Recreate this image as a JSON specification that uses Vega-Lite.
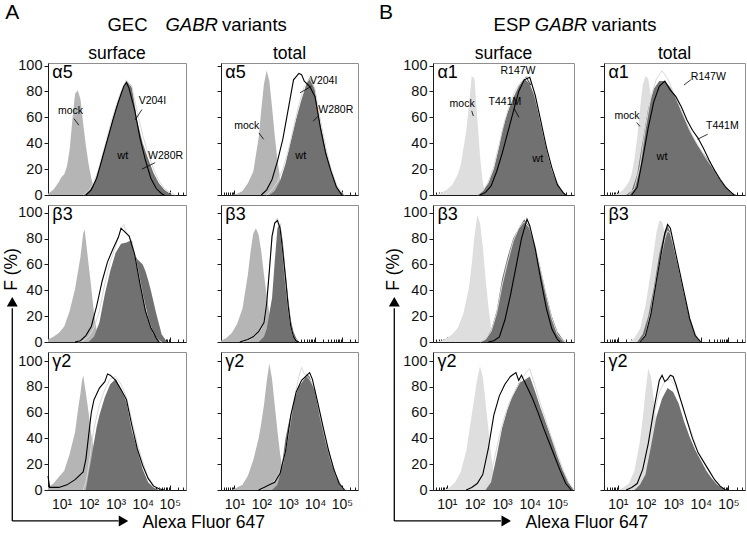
{
"$schema":"https://vega.github.io/schema/vega-lite/v6.json",
"background":"white",
"padding":{"left":2,"top":1,"right":1,"bottom":1},
"config":{"font":"Liberation Sans","view":{"stroke":"#8f8f8f","strokeWidth":1},
"axis":{"grid":false,"domainColor":"#1a1a1a","tickColor":"#1a1a1a","labelColor":"#111111","labelFont":"Liberation Sans","domainWidth":1,"tickWidth":1},
"axisX":{"labelFontSize":14},"axisY":{"labelFontSize":14.5}},
"datasets":{
"curves":[
{"p":"A1s","s":"mock","L":[0.5,0.7,0.9,1.0,1.1,1.2,1.3,1.4,1.5,1.6,1.7,1.8,1.9,2.0,2.1,2.2,2.3],"y":[1,4,10,14,16,22,35,58,78,81,74,55,38,24,13,5,0]},
{"p":"A1s","s":"wt","L":[1.8,2.0,2.2,2.4,2.6,2.8,3.0,3.2,3.4,3.6,3.8,4.0,4.2,4.4,4.6,4.8,5.0,5.1],"y":[0,3,9,21,37,52,68,80,88,83,57,40,28,17,9,4,1,0]},
{"p":"A1s","s":"v1","L":[1.9,2.1,2.3,2.5,2.7,2.9,3.1,3.3,3.4,3.5,3.7,3.9,4.1,4.3,4.5,4.7,4.8],"y":[0,4,13,28,43,58,72,84,87,82,66,44,27,13,5,1,0]},
{"p":"A1s","s":"v2","L":[1.8,2.0,2.2,2.4,2.6,2.8,3.0,3.2,3.4,3.6,3.8,4.0,4.2,4.4,4.6,4.8,5.0,5.2],"y":[0,3,10,22,38,54,68,80,89,84,64,46,32,20,11,5,2,0]},
{"p":"A1t","s":"mock","L":[0.9,1.1,1.3,1.5,1.7,1.9,2.0,2.1,2.2,2.3,2.4,2.5,2.6,2.7,2.8,2.9],"y":[0,1,3,9,18,44,66,86,96,88,68,46,27,13,4,0]},
{"p":"A1t","s":"wt","L":[2.3,2.5,2.7,2.9,3.1,3.3,3.5,3.7,3.8,3.9,4.0,4.2,4.4,4.6,4.8,5.0,5.1],"y":[0,3,11,24,42,59,74,87,91,88,81,55,35,19,7,1,0]},
{"p":"A1t","s":"v1","L":[2.0,2.2,2.4,2.6,2.8,3.0,3.2,3.4,3.5,3.6,3.8,4.0,4.2,4.4,4.6,4.8,5.0],"y":[0,4,12,26,43,66,89,94,93,88,84,76,52,32,18,6,0]},
{"p":"A1t","s":"v2","L":[2.2,2.4,2.6,2.8,3.0,3.2,3.4,3.6,3.8,4.0,4.2,4.4,4.6,4.8,5.0,5.1],"y":[0,4,10,20,34,52,70,84,90,82,58,37,20,8,2,0]},
{"p":"A2s","s":"mock","L":[0.5,0.7,0.9,1.1,1.3,1.5,1.7,1.8,1.85,1.9,2.0,2.1,2.2,2.3,2.4,2.5],"y":[2,4,7,12,24,41,66,84,87,79,60,42,22,9,2,0]},
{"p":"A2s","s":"wt","L":[2.0,2.2,2.4,2.6,2.8,3.0,3.2,3.4,3.6,3.7,3.8,4.0,4.1,4.2,4.3,4.5,4.7,4.9],"y":[0,4,15,37,55,69,76,77,79,68,64,60,55,48,40,22,6,0]},
{"p":"A2s","s":"v1","L":[1.5,1.7,1.9,2.1,2.3,2.5,2.7,2.9,3.1,3.2,3.3,3.5,3.7,3.9,4.1,4.3,4.5,4.6],"y":[0,1,5,12,28,47,62,72,81,88,86,82,68,45,24,11,3,0]},
{"p":"A2s","s":"v2","L":[1.6,1.8,2.0,2.2,2.4,2.6,2.8,3.0,3.2,3.3,3.4,3.6,3.8,4.0,4.2,4.4,4.6,4.7],"y":[0,1,4,11,24,45,62,74,88,91,84,78,58,36,18,6,1,0]},
{"p":"A2t","s":"mock","L":[0.5,0.7,0.9,1.1,1.3,1.5,1.6,1.7,1.8,1.9,2.0,2.1,2.2,2.3,2.4,2.5,2.6],"y":[1,3,7,14,26,52,70,84,88,83,70,52,36,22,9,2,0]},
{"p":"A2t","s":"wt","L":[1.9,2.1,2.2,2.3,2.4,2.5,2.6,2.7,2.8,2.9,3.0,3.1,3.2,3.3,3.4],"y":[0,4,10,22,34,62,88,92,78,55,34,17,8,3,0]},
{"p":"A2t","s":"v1","L":[1.2,1.5,1.7,1.9,2.1,2.2,2.3,2.4,2.5,2.6,2.7,2.8,2.9,3.0,3.1,3.2,3.3,3.4],"y":[0,2,4,8,15,30,55,82,92,94,88,70,50,28,12,4,1,0]},
{"p":"A2t","s":"v2","L":[1.3,1.6,1.8,2.0,2.1,2.2,2.3,2.4,2.5,2.6,2.7,2.8,2.9,3.0,3.1,3.2,3.4],"y":[0,2,5,10,16,32,56,80,92,96,88,68,46,26,12,4,0]},
{"p":"A3s","s":"mock","L":[0.5,0.7,0.9,1.1,1.3,1.5,1.6,1.7,1.75,1.8,1.9,2.0,2.1,2.2,2.3,2.4,2.5,2.6],"y":[2,5,10,15,28,45,61,75,84,89,75,60,43,31,21,11,4,0]},
{"p":"A3s","s":"wt","L":[1.9,2.0,2.1,2.2,2.3,2.4,2.6,2.8,3.0,3.2,3.4,3.6,3.8,4.0,4.2,4.4,4.6],"y":[0,13,24,37,49,58,72,82,86,78,68,46,31,16,6,2,0]},
{"p":"A3s","s":"v1","L":[0.5,0.56,0.9,1.2,1.5,1.8,1.9,2.0,2.1,2.2,2.4,2.6,2.7,2.8,3.0,3.2,3.4,3.6,3.8,4.0,4.2,4.4,4.6,4.8],"y":[11,2,2,4,8,14,24,42,60,70,79,84,90,89,85,78,70,50,32,19,9,3,1,0]},
{"p":"A3s","s":"v2","L":[1.8,1.9,2.0,2.1,2.2,2.4,2.6,2.8,3.0,3.2,3.4,3.6,3.8,4.0,4.2,4.4,4.6,4.8],"y":[0,6,18,34,48,66,78,86,88,82,72,54,36,22,10,4,1,0]},
{"p":"A3t","s":"mock","L":[0.9,1.1,1.3,1.5,1.7,1.9,2.0,2.1,2.2,2.3,2.4,2.5,2.6,2.7,2.8,2.9,3.0],"y":[0,2,4,11,23,40,52,66,84,98,86,66,46,28,15,6,0]},
{"p":"A3t","s":"wt","L":[2.4,2.6,2.7,2.8,2.9,3.0,3.2,3.4,3.6,3.7,3.8,4.0,4.2,4.4,4.6,4.8,5.0,5.1],"y":[0,4,12,24,40,50,68,80,86,90,88,76,58,40,24,11,3,0]},
{"p":"A3t","s":"v1","L":[1.9,2.1,2.3,2.5,2.7,2.9,3.0,3.1,3.3,3.5,3.7,3.8,3.9,4.1,4.3,4.5,4.7,4.9,5.1],"y":[0,2,4,6,13,30,44,58,76,85,89,91,86,68,49,31,16,5,0]},
{"p":"A3t","s":"v2","L":[2.0,2.2,2.4,2.6,2.8,3.0,3.2,3.4,3.5,3.6,3.8,4.0,4.2,4.4,4.6,4.8,5.0,5.2],"y":[0,3,5,10,20,42,68,88,95,90,86,78,56,38,22,10,2,0]},
{"p":"B1s","s":"mock","L":[0.6,0.8,1.0,1.2,1.4,1.5,1.6,1.7,1.8,1.9,2.0,2.1,2.2,2.3,2.4],"y":[0,2,4,8,16,23,36,49,69,92,90,60,30,10,0]},
{"p":"B1s","s":"wt","L":[2.1,2.3,2.5,2.7,2.9,3.0,3.2,3.4,3.6,3.8,4.0,4.2,4.4,4.6,4.8,5.0,5.2,5.3],"y":[0,3,9,20,38,50,64,75,84,90,86,75,55,36,19,8,2,0]},
{"p":"B1s","s":"v1","L":[2.2,2.4,2.6,2.8,3.0,3.2,3.4,3.6,3.8,4.0,4.2,4.4,4.6,4.8,5.0,5.2,5.3],"y":[0,2,7,18,32,48,64,80,89,91,77,57,37,21,8,2,0]},
{"p":"B1s","s":"v2","L":[2.1,2.3,2.5,2.7,2.9,3.1,3.3,3.5,3.7,3.9,4.1,4.3,4.5,4.7,4.9,5.1,5.3],"y":[0,3,10,22,40,58,72,82,88,92,84,66,46,28,14,5,0]},
{"p":"B1t","s":"mock","L":[0.8,1.0,1.2,1.4,1.5,1.6,1.7,1.8,1.9,2.0,2.1,2.2,2.3,2.4,2.5,2.6,2.7],"y":[0,1,4,10,16,28,44,66,85,92,90,76,56,35,18,7,0]},
{"p":"B1t","s":"wt","L":[1.3,1.5,1.7,1.9,2.1,2.3,2.5,2.7,2.9,3.1,3.3,3.5,3.7,3.9,4.1,4.3,4.5,4.7,4.9,5.1,5.3],"y":[0,3,16,42,67,82,88,88,83,76,65,55,46,38,32,26,20,13,7,2,0]},
{"p":"B1t","s":"v1","L":[1.5,1.7,1.9,2.1,2.3,2.5,2.7,2.9,3.1,3.3,3.5,3.7,3.9,4.1,4.3,4.5,4.7,4.9,5.1,5.2],"y":[0,6,28,52,72,84,88,81,76,68,58,50,44,36,27,19,12,6,2,0]},
{"p":"B1t","s":"v2","L":[1.4,1.6,1.8,2.0,2.2,2.4,2.6,2.8,3.0,3.2,3.4,3.6,3.8,4.0,4.2,4.4,4.6,4.8,5.0,5.2],"y":[0,5,22,52,76,90,96,90,80,70,60,50,42,35,28,22,15,9,4,0]},
{"p":"B2s","s":"mock","L":[0.6,0.8,1.0,1.2,1.4,1.6,1.8,1.9,2.0,2.1,2.2,2.3,2.4,2.5,2.6,2.7,2.8],"y":[0,1,3,6,11,22,42,60,82,98,92,74,50,28,11,3,0]},
{"p":"B2s","s":"wt","L":[2.2,2.4,2.6,2.8,3.0,3.2,3.4,3.6,3.8,4.0,4.2,4.4,4.6,4.8,5.0,5.2,5.3],"y":[0,2,9,24,49,66,80,88,95,89,74,56,37,20,8,2,0]},
{"p":"B2s","s":"v1","L":[2.5,2.7,2.9,3.1,3.3,3.5,3.7,3.9,4.0,4.2,4.4,4.6,4.8,5.0,5.1],"y":[0,1,4,17,36,58,80,95,90,72,48,26,10,2,0]},
{"p":"B2s","s":"v2","L":[2.2,2.4,2.6,2.8,3.0,3.2,3.4,3.6,3.8,4.0,4.2,4.4,4.6,4.8,5.0,5.2,5.3],"y":[0,2,8,22,44,62,78,88,93,88,74,55,36,18,6,1,0]},
{"p":"B2t","s":"mock","L":[1.4,1.6,1.8,2.0,2.2,2.4,2.5,2.6,2.7,2.8,2.9,3.0,3.2,3.4,3.6,3.7],"y":[0,3,10,28,55,85,94,93,84,70,50,34,16,6,1,0]},
{"p":"B2t","s":"wt","L":[1.7,1.9,2.1,2.3,2.5,2.7,2.8,2.9,3.0,3.2,3.4,3.6,3.8,4.0],"y":[0,6,20,42,68,86,90,85,76,56,37,18,6,0]},
{"p":"B2t","s":"v1","L":[1.8,2.0,2.2,2.4,2.6,2.7,2.8,2.9,3.0,3.2,3.4,3.6,3.8,4.0],"y":[0,5,22,48,72,84,91,88,78,58,38,18,5,0]},
{"p":"B2t","s":"v2","L":[1.8,2.0,2.2,2.4,2.6,2.7,2.8,2.9,3.0,3.2,3.4,3.6,3.8,4.0],"y":[0,6,24,50,70,80,86,84,76,58,38,19,6,0]},
{"p":"B3s","s":"mock","L":[0.9,1.1,1.3,1.5,1.7,1.8,1.9,2.0,2.1,2.2,2.3,2.4,2.5,2.6,2.7,2.8,2.9],"y":[0,2,6,14,30,44,58,72,86,96,88,68,48,28,12,3,0]},
{"p":"B3s","s":"wt","L":[2.4,2.6,2.8,3.0,3.2,3.4,3.6,3.8,4.0,4.2,4.4,4.6,4.8,5.0,5.2,5.4,5.6],"y":[0,6,26,48,63,74,83,85,88,76,63,51,39,26,15,6,0]},
{"p":"B3s","s":"v1","L":[1.7,1.9,2.1,2.3,2.5,2.7,2.9,3.1,3.3,3.5,3.6,3.7,3.9,4.1,4.3,4.5,4.7,4.9,5.1,5.3,5.5],"y":[0,2,5,12,32,58,73,82,88,91,85,89,80,71,60,48,37,26,15,5,0]},
{"p":"B3s","s":"v2","L":[2.3,2.5,2.7,2.9,3.1,3.3,3.5,3.7,3.9,4.0,4.2,4.4,4.6,4.8,5.0,5.2,5.4,5.6],"y":[0,6,22,42,58,70,78,86,92,94,80,66,53,40,28,16,6,0]},
{"p":"B3t","s":"mock","L":[1.0,1.2,1.4,1.6,1.8,1.9,2.0,2.1,2.2,2.3,2.4,2.5,2.6,2.7,2.8,2.9],"y":[0,2,5,15,38,55,76,94,88,70,50,32,18,8,2,0]},
{"p":"B3t","s":"wt","L":[1.6,1.8,2.0,2.2,2.4,2.6,2.8,3.0,3.2,3.4,3.6,3.8,4.0,4.2,4.4,4.6,4.8,4.9],"y":[0,4,12,34,57,71,79,76,67,53,41,31,23,15,9,4,1,0]},
{"p":"B3t","s":"v1","L":[1.3,1.5,1.7,1.9,2.1,2.3,2.5,2.6,2.7,2.8,2.9,3.0,3.1,3.3,3.5,3.7,3.9,4.1,4.3,4.5,4.7,4.9],"y":[0,2,5,16,36,62,85,89,84,86,89,88,82,68,54,40,29,22,15,8,3,0]},
{"p":"B3t","s":"v2","L":[1.5,1.7,1.9,2.1,2.3,2.5,2.7,2.9,3.1,3.3,3.5,3.7,3.9,4.1,4.3,4.5,4.7,4.9],"y":[0,4,14,34,58,76,84,86,80,68,54,42,30,22,14,8,3,0]}
],
"texts":[
{"p":"A1s","k":"g","t":"α5","L":0.66,"y":101},{"p":"A1t","k":"g","t":"α5","L":0.66,"y":101},
{"p":"A2s","k":"g","t":"β3","L":0.66,"y":105},{"p":"A2t","k":"g","t":"β3","L":0.66,"y":105},
{"p":"A3s","k":"g","t":"γ2","L":0.66,"y":106},{"p":"A3t","k":"g","t":"γ2","L":0.66,"y":106},
{"p":"B1s","k":"g","t":"α1","L":0.66,"y":101},{"p":"B1t","k":"g","t":"α1","L":0.66,"y":101},
{"p":"B2s","k":"g","t":"β3","L":0.66,"y":105},{"p":"B2t","k":"g","t":"β3","L":0.66,"y":105},
{"p":"B3s","k":"g","t":"γ2","L":0.66,"y":106},{"p":"B3t","k":"g","t":"γ2","L":0.66,"y":106},
{"p":"A1s","k":"h","t":"surface","L":3.05,"y":105},{"p":"A1t","k":"h","t":"total","L":3.05,"y":105},
{"p":"B1s","k":"h","t":"surface","L":3.05,"y":105},{"p":"B1t","k":"h","t":"total","L":3.05,"y":105},
{"p":"A1s","k":"a","t":"mock","L":0.87,"y":65},{"p":"A1s","k":"a","t":"V204I","L":3.85,"y":73},{"p":"A1s","k":"a","t":"W280R","L":4.2,"y":30},{"p":"A1s","k":"c","t":"wt","L":3.26,"y":30},
{"p":"A1t","k":"a","t":"mock","L":0.99,"y":53},{"p":"A1t","k":"a","t":"V204I","L":3.81,"y":88},{"p":"A1t","k":"a","t":"W280R","L":4.12,"y":66},{"p":"A1t","k":"c","t":"wt","L":3.47,"y":30},
{"p":"B1s","k":"a","t":"mock","L":1.1,"y":70},{"p":"B1s","k":"a","t":"R147W","L":2.94,"y":96},{"p":"B1s","k":"a","t":"T441M","L":2.51,"y":72},{"p":"B1s","k":"c","t":"wt","L":4.29,"y":28},
{"p":"B1t","k":"a","t":"mock","L":0.88,"y":61},{"p":"B1t","k":"a","t":"R147W","L":3.64,"y":91},{"p":"B1t","k":"a","t":"T441M","L":4.19,"y":53},{"p":"B1t","k":"c","t":"wt","L":2.6,"y":29},
{"p":"A1s","k":"tr","t":"GEC","L":4.18,"y":126.7},{"p":"A1s","k":"ti","t":"GABR","L":4.84,"y":126.7},{"p":"A1s","k":"tl","t":"variants","L":6.93,"y":126.7},{"p":"A1s","k":"P","t":"A","L":-1.08,"y":136},
{"p":"B1s","k":"tr","t":"ESP","L":4.03,"y":126.7},{"p":"B1s","k":"ti","t":"GABR","L":4.18,"y":126.7},{"p":"B1s","k":"tl","t":"variants","L":6.24,"y":126.7},{"p":"B1s","k":"P","t":"B","L":-1.45,"y":136},
{"p":"A3s","k":"fy","t":"F (%)","L":-0.82,"y":171},{"p":"A3s","k":"fx","t":"Alexa Fluor 647","L":3.99,"y":-25.5},
{"p":"B3s","k":"fy","t":"F (%)","L":-0.9,"y":171},{"p":"B3s","k":"fx","t":"Alexa Fluor 647","L":3.85,"y":-25.5}
],
"leaders":[
{"p":"A1s","L":1.46,"y":59,"L2":1.64,"y2":54},{"p":"A1s","L":3.97,"y":66,"L2":3.72,"y2":58},{"p":"A1s","L":4.46,"y":25,"L2":3.97,"y2":20},
{"p":"A1t","L":1.91,"y":48,"L2":2.09,"y2":43},{"p":"A1t","L":3.87,"y":84,"L2":3.44,"y2":79},{"p":"A1t","L":4.12,"y":61,"L2":3.93,"y2":57},
{"p":"B1s","L":1.9,"y":65,"L2":1.96,"y2":61},{"p":"B1s","L":3.86,"y":91,"L2":4.04,"y2":85},{"p":"B1s","L":3.43,"y":67,"L2":3.61,"y2":60},
{"p":"B1t","L":1.68,"y":56,"L2":1.8,"y2":53},{"p":"B1t","L":3.64,"y":89,"L2":3.39,"y2":85},{"p":"B1t","L":4.25,"y":47,"L2":3.88,"y2":43}
],
"arrows":[
{"p":"A3s","L":-0.82,"y":-24,"L2":-0.82,"y2":141},{"p":"A3s","L":-0.82,"y":-24,"L2":3.11,"y2":-24},
{"p":"B3s","L":-0.9,"y":-24,"L2":-0.9,"y2":141},{"p":"B3s","L":-0.9,"y":-24,"L2":2.96,"y2":-24}
],
"heads":[
{"p":"A3s","L":-0.82,"y":146,"dir":"up"},{"p":"A3s","L":3.29,"y":-24,"dir":"right"},
{"p":"B3s","L":-0.9,"y":146,"dir":"up"},{"p":"B3s","L":3.15,"y":-24,"dir":"right"}
],
"blank":[{"z":0}]
},
"columns":7,
"spacing":{"row":10,"column":0},
"bounds":"flush",
"concat":[
  {"width":138,"height":132,
   "encoding":{"x":{"field":"L","type":"quantitative","scale":{"domain":[0.5,5.6],"nice":false,"zero":false},"axis":{"title":null,"values":[0.602,0.699,0.778,0.845,0.903,0.954,1,1.301,1.477,1.602,1.699,1.778,1.845,1.903,1.954,2,2.301,2.477,2.602,2.699,2.778,2.845,2.903,2.954,3,3.301,3.477,3.602,3.699,3.778,3.845,3.903,3.954,4,4.301,4.477,4.602,4.699,4.778,4.845,4.903,4.954,5,5.301,5.477],"labels":false,"tickSize":{"condition":{"test":"datum.value==round(datum.value)","value":-5},"value":-3}}},
    "y":{"field":"y","type":"quantitative","scale":{"domain":[0,102],"nice":false},"axis":{"title":null,"values":[0,20,40,60,80,100],"tickSize":4,"labelPadding":2}}},
   "layer":[
    {"data":{"name":"curves"},"transform":[{"filter":"datum.p=='A1s'&&datum.s=='mock'"},{"flatten":["L","y"]}],"mark":{"type":"area","color":"#b5b5b5"},"encoding":{}},
    {"data":{"name":"curves"},"transform":[{"filter":"datum.p=='A1s'&&datum.s=='wt'"},{"flatten":["L","y"]}],"mark":{"type":"area","color":"#717171"},"encoding":{}},
    {"data":{"name":"curves"},"transform":[{"filter":"datum.p=='A1s'&&datum.s=='v2'"},{"flatten":["L","y"]}],"mark":{"type":"line","color":"#d9d9d9","strokeWidth":1},"encoding":{}},
    {"data":{"name":"curves"},"transform":[{"filter":"datum.p=='A1s'&&datum.s=='v1'"},{"flatten":["L","y"]}],"mark":{"type":"line","color":"#000000","strokeWidth":1.1},"encoding":{}},
    {"data":{"name":"texts"},"transform":[{"filter":"datum.p=='A1s'&&datum.k=='g'"}],"mark":{"type":"text","align":"left","baseline":"top","fontSize":18},"encoding":{"text":{"field":"t","type":"nominal"}}},
    {"data":{"name":"texts"},"transform":[{"filter":"datum.p=='A1s'&&datum.k=='h'"}],"mark":{"type":"text","align":"center","baseline":"alphabetic","fontSize":17.5},"encoding":{"text":{"field":"t","type":"nominal"}}},
    {"data":{"name":"texts"},"transform":[{"filter":"datum.p=='A1s'&&datum.k=='a'"}],"mark":{"type":"text","align":"left","baseline":"middle","fontSize":10.5},"encoding":{"text":{"field":"t","type":"nominal"}}},
    {"data":{"name":"texts"},"transform":[{"filter":"datum.p=='A1s'&&datum.k=='c'"}],"mark":{"type":"text","align":"center","baseline":"middle","fontSize":11},"encoding":{"text":{"field":"t","type":"nominal"}}},
    {"data":{"name":"leaders"},"transform":[{"filter":"datum.p=='A1s'"}],"mark":{"type":"rule","color":"#000000","strokeWidth":0.8},"encoding":{"x2":{"field":"L2"},"y2":{"field":"y2"}}},
    {"data":{"name":"texts"},"transform":[{"filter":"datum.p=='A1s'&&datum.k=='tr'"}],"mark":{"type":"text","align":"right","baseline":"alphabetic","fontSize":18.5},"encoding":{"text":{"field":"t","type":"nominal"}}},
    {"data":{"name":"texts"},"transform":[{"filter":"datum.p=='A1s'&&datum.k=='ti'"}],"mark":{"type":"text","align":"left","baseline":"alphabetic","fontSize":18.5,"fontStyle":"italic"},"encoding":{"text":{"field":"t","type":"nominal"}}},
    {"data":{"name":"texts"},"transform":[{"filter":"datum.p=='A1s'&&datum.k=='tl'"}],"mark":{"type":"text","align":"left","baseline":"alphabetic","fontSize":18.5},"encoding":{"text":{"field":"t","type":"nominal"}}},
    {"data":{"name":"texts"},"transform":[{"filter":"datum.p=='A1s'&&datum.k=='P'"}],"mark":{"type":"text","align":"left","baseline":"alphabetic","fontSize":21},"encoding":{"text":{"field":"t","type":"nominal"}}}
   ]},
  {"width":35,"height":1,"data":{"name":"blank"},"mark":{"type":"point","opacity":0},"view":{"stroke":null}},
  {"width":137,"height":132,
   "encoding":{"x":{"field":"L","type":"quantitative","scale":{"domain":[0.5,5.6],"nice":false,"zero":false},"axis":{"title":null,"values":[0.602,0.699,0.778,0.845,0.903,0.954,1,1.301,1.477,1.602,1.699,1.778,1.845,1.903,1.954,2,2.301,2.477,2.602,2.699,2.778,2.845,2.903,2.954,3,3.301,3.477,3.602,3.699,3.778,3.845,3.903,3.954,4,4.301,4.477,4.602,4.699,4.778,4.845,4.903,4.954,5,5.301,5.477],"labels":false,"tickSize":{"condition":{"test":"datum.value==round(datum.value)","value":-5},"value":-3}}},
    "y":{"field":"y","type":"quantitative","scale":{"domain":[0,102],"nice":false},"axis":{"title":null,"values":[0,20,40,60,80,100],"tickSize":4,"labels":false}}},
   "layer":[
    {"data":{"name":"curves"},"transform":[{"filter":"datum.p=='A1t'&&datum.s=='mock'"},{"flatten":["L","y"]}],"mark":{"type":"area","color":"#b5b5b5"},"encoding":{}},
    {"data":{"name":"curves"},"transform":[{"filter":"datum.p=='A1t'&&datum.s=='wt'"},{"flatten":["L","y"]}],"mark":{"type":"area","color":"#717171"},"encoding":{}},
    {"data":{"name":"curves"},"transform":[{"filter":"datum.p=='A1t'&&datum.s=='v2'"},{"flatten":["L","y"]}],"mark":{"type":"line","color":"#d9d9d9","strokeWidth":1},"encoding":{}},
    {"data":{"name":"curves"},"transform":[{"filter":"datum.p=='A1t'&&datum.s=='v1'"},{"flatten":["L","y"]}],"mark":{"type":"line","color":"#000000","strokeWidth":1.1},"encoding":{}},
    {"data":{"name":"texts"},"transform":[{"filter":"datum.p=='A1t'&&datum.k=='g'"}],"mark":{"type":"text","align":"left","baseline":"top","fontSize":18},"encoding":{"text":{"field":"t","type":"nominal"}}},
    {"data":{"name":"texts"},"transform":[{"filter":"datum.p=='A1t'&&datum.k=='h'"}],"mark":{"type":"text","align":"center","baseline":"alphabetic","fontSize":17.5},"encoding":{"text":{"field":"t","type":"nominal"}}},
    {"data":{"name":"texts"},"transform":[{"filter":"datum.p=='A1t'&&datum.k=='a'"}],"mark":{"type":"text","align":"left","baseline":"middle","fontSize":10.5},"encoding":{"text":{"field":"t","type":"nominal"}}},
    {"data":{"name":"texts"},"transform":[{"filter":"datum.p=='A1t'&&datum.k=='c'"}],"mark":{"type":"text","align":"center","baseline":"middle","fontSize":11},"encoding":{"text":{"field":"t","type":"nominal"}}},
    {"data":{"name":"leaders"},"transform":[{"filter":"datum.p=='A1t'"}],"mark":{"type":"rule","color":"#000000","strokeWidth":0.8},"encoding":{"x2":{"field":"L2"},"y2":{"field":"y2"}}}
   ]},
  {"width":75,"height":1,"data":{"name":"blank"},"mark":{"type":"point","opacity":0},"view":{"stroke":null}},
  {"width":141,"height":132,
   "encoding":{"x":{"field":"L","type":"quantitative","scale":{"domain":[0.5,5.6],"nice":false,"zero":false},"axis":{"title":null,"values":[0.602,0.699,0.778,0.845,0.903,0.954,1,1.301,1.477,1.602,1.699,1.778,1.845,1.903,1.954,2,2.301,2.477,2.602,2.699,2.778,2.845,2.903,2.954,3,3.301,3.477,3.602,3.699,3.778,3.845,3.903,3.954,4,4.301,4.477,4.602,4.699,4.778,4.845,4.903,4.954,5,5.301,5.477],"labels":false,"tickSize":{"condition":{"test":"datum.value==round(datum.value)","value":-5},"value":-3}}},
    "y":{"field":"y","type":"quantitative","scale":{"domain":[0,102],"nice":false},"axis":{"title":null,"values":[0,20,40,60,80,100],"tickSize":4,"labelPadding":2}}},
   "layer":[
    {"data":{"name":"curves"},"transform":[{"filter":"datum.p=='B1s'&&datum.s=='mock'"},{"flatten":["L","y"]}],"mark":{"type":"area","color":"#dedede"},"encoding":{}},
    {"data":{"name":"curves"},"transform":[{"filter":"datum.p=='B1s'&&datum.s=='wt'"},{"flatten":["L","y"]}],"mark":{"type":"area","color":"#717171"},"encoding":{}},
    {"data":{"name":"curves"},"transform":[{"filter":"datum.p=='B1s'&&datum.s=='v2'"},{"flatten":["L","y"]}],"mark":{"type":"line","color":"#d9d9d9","strokeWidth":1},"encoding":{}},
    {"data":{"name":"curves"},"transform":[{"filter":"datum.p=='B1s'&&datum.s=='v1'"},{"flatten":["L","y"]}],"mark":{"type":"line","color":"#000000","strokeWidth":1.1},"encoding":{}},
    {"data":{"name":"texts"},"transform":[{"filter":"datum.p=='B1s'&&datum.k=='g'"}],"mark":{"type":"text","align":"left","baseline":"top","fontSize":18},"encoding":{"text":{"field":"t","type":"nominal"}}},
    {"data":{"name":"texts"},"transform":[{"filter":"datum.p=='B1s'&&datum.k=='h'"}],"mark":{"type":"text","align":"center","baseline":"alphabetic","fontSize":17.5},"encoding":{"text":{"field":"t","type":"nominal"}}},
    {"data":{"name":"texts"},"transform":[{"filter":"datum.p=='B1s'&&datum.k=='a'"}],"mark":{"type":"text","align":"left","baseline":"middle","fontSize":10.5},"encoding":{"text":{"field":"t","type":"nominal"}}},
    {"data":{"name":"texts"},"transform":[{"filter":"datum.p=='B1s'&&datum.k=='c'"}],"mark":{"type":"text","align":"center","baseline":"middle","fontSize":11},"encoding":{"text":{"field":"t","type":"nominal"}}},
    {"data":{"name":"leaders"},"transform":[{"filter":"datum.p=='B1s'"}],"mark":{"type":"rule","color":"#000000","strokeWidth":0.8},"encoding":{"x2":{"field":"L2"},"y2":{"field":"y2"}}},
    {"data":{"name":"texts"},"transform":[{"filter":"datum.p=='B1s'&&datum.k=='tr'"}],"mark":{"type":"text","align":"right","baseline":"alphabetic","fontSize":18.5},"encoding":{"text":{"field":"t","type":"nominal"}}},
    {"data":{"name":"texts"},"transform":[{"filter":"datum.p=='B1s'&&datum.k=='ti'"}],"mark":{"type":"text","align":"left","baseline":"alphabetic","fontSize":18.5,"fontStyle":"italic"},"encoding":{"text":{"field":"t","type":"nominal"}}},
    {"data":{"name":"texts"},"transform":[{"filter":"datum.p=='B1s'&&datum.k=='tl'"}],"mark":{"type":"text","align":"left","baseline":"alphabetic","fontSize":18.5},"encoding":{"text":{"field":"t","type":"nominal"}}},
    {"data":{"name":"texts"},"transform":[{"filter":"datum.p=='B1s'&&datum.k=='P'"}],"mark":{"type":"text","align":"left","baseline":"alphabetic","fontSize":21},"encoding":{"text":{"field":"t","type":"nominal"}}}
   ]},
  {"width":30,"height":1,"data":{"name":"blank"},"mark":{"type":"point","opacity":0},"view":{"stroke":null}},
  {"width":141,"height":132,
   "encoding":{"x":{"field":"L","type":"quantitative","scale":{"domain":[0.5,5.6],"nice":false,"zero":false},"axis":{"title":null,"values":[0.602,0.699,0.778,0.845,0.903,0.954,1,1.301,1.477,1.602,1.699,1.778,1.845,1.903,1.954,2,2.301,2.477,2.602,2.699,2.778,2.845,2.903,2.954,3,3.301,3.477,3.602,3.699,3.778,3.845,3.903,3.954,4,4.301,4.477,4.602,4.699,4.778,4.845,4.903,4.954,5,5.301,5.477],"labels":false,"tickSize":{"condition":{"test":"datum.value==round(datum.value)","value":-5},"value":-3}}},
    "y":{"field":"y","type":"quantitative","scale":{"domain":[0,102],"nice":false},"axis":{"title":null,"values":[0,20,40,60,80,100],"tickSize":4,"labels":false}}},
   "layer":[
    {"data":{"name":"curves"},"transform":[{"filter":"datum.p=='B1t'&&datum.s=='mock'"},{"flatten":["L","y"]}],"mark":{"type":"area","color":"#dedede"},"encoding":{}},
    {"data":{"name":"curves"},"transform":[{"filter":"datum.p=='B1t'&&datum.s=='wt'"},{"flatten":["L","y"]}],"mark":{"type":"area","color":"#717171"},"encoding":{}},
    {"data":{"name":"curves"},"transform":[{"filter":"datum.p=='B1t'&&datum.s=='v2'"},{"flatten":["L","y"]}],"mark":{"type":"line","color":"#d9d9d9","strokeWidth":1},"encoding":{}},
    {"data":{"name":"curves"},"transform":[{"filter":"datum.p=='B1t'&&datum.s=='v1'"},{"flatten":["L","y"]}],"mark":{"type":"line","color":"#000000","strokeWidth":1.1},"encoding":{}},
    {"data":{"name":"texts"},"transform":[{"filter":"datum.p=='B1t'&&datum.k=='g'"}],"mark":{"type":"text","align":"left","baseline":"top","fontSize":18},"encoding":{"text":{"field":"t","type":"nominal"}}},
    {"data":{"name":"texts"},"transform":[{"filter":"datum.p=='B1t'&&datum.k=='h'"}],"mark":{"type":"text","align":"center","baseline":"alphabetic","fontSize":17.5},"encoding":{"text":{"field":"t","type":"nominal"}}},
    {"data":{"name":"texts"},"transform":[{"filter":"datum.p=='B1t'&&datum.k=='a'"}],"mark":{"type":"text","align":"left","baseline":"middle","fontSize":10.5},"encoding":{"text":{"field":"t","type":"nominal"}}},
    {"data":{"name":"texts"},"transform":[{"filter":"datum.p=='B1t'&&datum.k=='c'"}],"mark":{"type":"text","align":"center","baseline":"middle","fontSize":11},"encoding":{"text":{"field":"t","type":"nominal"}}},
    {"data":{"name":"leaders"},"transform":[{"filter":"datum.p=='B1t'"}],"mark":{"type":"rule","color":"#000000","strokeWidth":0.8},"encoding":{"x2":{"field":"L2"},"y2":{"field":"y2"}}}
   ]},
  {"width":138,"height":137,
   "encoding":{"x":{"field":"L","type":"quantitative","scale":{"domain":[0.5,5.6],"nice":false,"zero":false},"axis":{"title":null,"values":[0.602,0.699,0.778,0.845,0.903,0.954,1,1.301,1.477,1.602,1.699,1.778,1.845,1.903,1.954,2,2.301,2.477,2.602,2.699,2.778,2.845,2.903,2.954,3,3.301,3.477,3.602,3.699,3.778,3.845,3.903,3.954,4,4.301,4.477,4.602,4.699,4.778,4.845,4.903,4.954,5,5.301,5.477],"labels":false,"tickSize":{"condition":{"test":"datum.value==round(datum.value)","value":-5},"value":-3}}},
    "y":{"field":"y","type":"quantitative","scale":{"domain":[0,106],"nice":false},"axis":{"title":null,"values":[0,20,40,60,80,100],"tickSize":4,"labelPadding":2}}},
   "layer":[
    {"data":{"name":"curves"},"transform":[{"filter":"datum.p=='A2s'&&datum.s=='mock'"},{"flatten":["L","y"]}],"mark":{"type":"area","color":"#b5b5b5"},"encoding":{}},
    {"data":{"name":"curves"},"transform":[{"filter":"datum.p=='A2s'&&datum.s=='wt'"},{"flatten":["L","y"]}],"mark":{"type":"area","color":"#717171"},"encoding":{}},
    {"data":{"name":"curves"},"transform":[{"filter":"datum.p=='A2s'&&datum.s=='v2'"},{"flatten":["L","y"]}],"mark":{"type":"line","color":"#d9d9d9","strokeWidth":1},"encoding":{}},
    {"data":{"name":"curves"},"transform":[{"filter":"datum.p=='A2s'&&datum.s=='v1'"},{"flatten":["L","y"]}],"mark":{"type":"line","color":"#000000","strokeWidth":1.1},"encoding":{}},
    {"data":{"name":"texts"},"transform":[{"filter":"datum.p=='A2s'&&datum.k=='g'"}],"mark":{"type":"text","align":"left","baseline":"top","fontSize":18},"encoding":{"text":{"field":"t","type":"nominal"}}}
   ]},
  {"width":35,"height":1,"data":{"name":"blank"},"mark":{"type":"point","opacity":0},"view":{"stroke":null}},
  {"width":137,"height":137,
   "encoding":{"x":{"field":"L","type":"quantitative","scale":{"domain":[0.5,5.6],"nice":false,"zero":false},"axis":{"title":null,"values":[0.602,0.699,0.778,0.845,0.903,0.954,1,1.301,1.477,1.602,1.699,1.778,1.845,1.903,1.954,2,2.301,2.477,2.602,2.699,2.778,2.845,2.903,2.954,3,3.301,3.477,3.602,3.699,3.778,3.845,3.903,3.954,4,4.301,4.477,4.602,4.699,4.778,4.845,4.903,4.954,5,5.301,5.477],"labels":false,"tickSize":{"condition":{"test":"datum.value==round(datum.value)","value":-5},"value":-3}}},
    "y":{"field":"y","type":"quantitative","scale":{"domain":[0,106],"nice":false},"axis":{"title":null,"values":[0,20,40,60,80,100],"tickSize":4,"labels":false}}},
   "layer":[
    {"data":{"name":"curves"},"transform":[{"filter":"datum.p=='A2t'&&datum.s=='mock'"},{"flatten":["L","y"]}],"mark":{"type":"area","color":"#b5b5b5"},"encoding":{}},
    {"data":{"name":"curves"},"transform":[{"filter":"datum.p=='A2t'&&datum.s=='wt'"},{"flatten":["L","y"]}],"mark":{"type":"area","color":"#717171"},"encoding":{}},
    {"data":{"name":"curves"},"transform":[{"filter":"datum.p=='A2t'&&datum.s=='v2'"},{"flatten":["L","y"]}],"mark":{"type":"line","color":"#d9d9d9","strokeWidth":1},"encoding":{}},
    {"data":{"name":"curves"},"transform":[{"filter":"datum.p=='A2t'&&datum.s=='v1'"},{"flatten":["L","y"]}],"mark":{"type":"line","color":"#000000","strokeWidth":1.1},"encoding":{}},
    {"data":{"name":"texts"},"transform":[{"filter":"datum.p=='A2t'&&datum.k=='g'"}],"mark":{"type":"text","align":"left","baseline":"top","fontSize":18},"encoding":{"text":{"field":"t","type":"nominal"}}}
   ]},
  {"width":75,"height":1,"data":{"name":"blank"},"mark":{"type":"point","opacity":0},"view":{"stroke":null}},
  {"width":141,"height":137,
   "encoding":{"x":{"field":"L","type":"quantitative","scale":{"domain":[0.5,5.6],"nice":false,"zero":false},"axis":{"title":null,"values":[0.602,0.699,0.778,0.845,0.903,0.954,1,1.301,1.477,1.602,1.699,1.778,1.845,1.903,1.954,2,2.301,2.477,2.602,2.699,2.778,2.845,2.903,2.954,3,3.301,3.477,3.602,3.699,3.778,3.845,3.903,3.954,4,4.301,4.477,4.602,4.699,4.778,4.845,4.903,4.954,5,5.301,5.477],"labels":false,"tickSize":{"condition":{"test":"datum.value==round(datum.value)","value":-5},"value":-3}}},
    "y":{"field":"y","type":"quantitative","scale":{"domain":[0,106],"nice":false},"axis":{"title":null,"values":[0,20,40,60,80,100],"tickSize":4,"labelPadding":2}}},
   "layer":[
    {"data":{"name":"curves"},"transform":[{"filter":"datum.p=='B2s'&&datum.s=='mock'"},{"flatten":["L","y"]}],"mark":{"type":"area","color":"#dedede"},"encoding":{}},
    {"data":{"name":"curves"},"transform":[{"filter":"datum.p=='B2s'&&datum.s=='wt'"},{"flatten":["L","y"]}],"mark":{"type":"area","color":"#717171"},"encoding":{}},
    {"data":{"name":"curves"},"transform":[{"filter":"datum.p=='B2s'&&datum.s=='v2'"},{"flatten":["L","y"]}],"mark":{"type":"line","color":"#d9d9d9","strokeWidth":1},"encoding":{}},
    {"data":{"name":"curves"},"transform":[{"filter":"datum.p=='B2s'&&datum.s=='v1'"},{"flatten":["L","y"]}],"mark":{"type":"line","color":"#000000","strokeWidth":1.1},"encoding":{}},
    {"data":{"name":"texts"},"transform":[{"filter":"datum.p=='B2s'&&datum.k=='g'"}],"mark":{"type":"text","align":"left","baseline":"top","fontSize":18},"encoding":{"text":{"field":"t","type":"nominal"}}}
   ]},
  {"width":30,"height":1,"data":{"name":"blank"},"mark":{"type":"point","opacity":0},"view":{"stroke":null}},
  {"width":141,"height":137,
   "encoding":{"x":{"field":"L","type":"quantitative","scale":{"domain":[0.5,5.6],"nice":false,"zero":false},"axis":{"title":null,"values":[0.602,0.699,0.778,0.845,0.903,0.954,1,1.301,1.477,1.602,1.699,1.778,1.845,1.903,1.954,2,2.301,2.477,2.602,2.699,2.778,2.845,2.903,2.954,3,3.301,3.477,3.602,3.699,3.778,3.845,3.903,3.954,4,4.301,4.477,4.602,4.699,4.778,4.845,4.903,4.954,5,5.301,5.477],"labels":false,"tickSize":{"condition":{"test":"datum.value==round(datum.value)","value":-5},"value":-3}}},
    "y":{"field":"y","type":"quantitative","scale":{"domain":[0,106],"nice":false},"axis":{"title":null,"values":[0,20,40,60,80,100],"tickSize":4,"labels":false}}},
   "layer":[
    {"data":{"name":"curves"},"transform":[{"filter":"datum.p=='B2t'&&datum.s=='mock'"},{"flatten":["L","y"]}],"mark":{"type":"area","color":"#dedede"},"encoding":{}},
    {"data":{"name":"curves"},"transform":[{"filter":"datum.p=='B2t'&&datum.s=='wt'"},{"flatten":["L","y"]}],"mark":{"type":"area","color":"#717171"},"encoding":{}},
    {"data":{"name":"curves"},"transform":[{"filter":"datum.p=='B2t'&&datum.s=='v2'"},{"flatten":["L","y"]}],"mark":{"type":"line","color":"#d9d9d9","strokeWidth":1},"encoding":{}},
    {"data":{"name":"curves"},"transform":[{"filter":"datum.p=='B2t'&&datum.s=='v1'"},{"flatten":["L","y"]}],"mark":{"type":"line","color":"#000000","strokeWidth":1.1},"encoding":{}},
    {"data":{"name":"texts"},"transform":[{"filter":"datum.p=='B2t'&&datum.k=='g'"}],"mark":{"type":"text","align":"left","baseline":"top","fontSize":18},"encoding":{"text":{"field":"t","type":"nominal"}}}
   ]},
  {"width":138,"height":138,
   "encoding":{"x":{"field":"L","type":"quantitative","scale":{"domain":[0.5,5.6],"nice":false,"zero":false},"axis":{"title":null,"values":[0.602,0.699,0.778,0.845,0.903,0.954,1,1.301,1.477,1.602,1.699,1.778,1.845,1.903,1.954,2,2.301,2.477,2.602,2.699,2.778,2.845,2.903,2.954,3,3.301,3.477,3.602,3.699,3.778,3.845,3.903,3.954,4,4.301,4.477,4.602,4.699,4.778,4.845,4.903,4.954,5,5.301,5.477],"labelExpr":"datum.value==1?'10¹':datum.value==2?'10²':datum.value==3?'10³':datum.value==4?'10⁴':datum.value==5?'10⁵':''","labelPadding":12,"tickSize":{"condition":{"test":"datum.value==round(datum.value)","value":-5},"value":-3}}},
    "y":{"field":"y","type":"quantitative","scale":{"domain":[0,107],"nice":false},"axis":{"title":null,"values":[0,20,40,60,80,100],"tickSize":4,"labelPadding":2}}},
   "layer":[
    {"data":{"name":"curves"},"transform":[{"filter":"datum.p=='A3s'&&datum.s=='mock'"},{"flatten":["L","y"]}],"mark":{"type":"area","color":"#b5b5b5"},"encoding":{}},
    {"data":{"name":"curves"},"transform":[{"filter":"datum.p=='A3s'&&datum.s=='wt'"},{"flatten":["L","y"]}],"mark":{"type":"area","color":"#717171"},"encoding":{}},
    {"data":{"name":"curves"},"transform":[{"filter":"datum.p=='A3s'&&datum.s=='v2'"},{"flatten":["L","y"]}],"mark":{"type":"line","color":"#d9d9d9","strokeWidth":1},"encoding":{}},
    {"data":{"name":"curves"},"transform":[{"filter":"datum.p=='A3s'&&datum.s=='v1'"},{"flatten":["L","y"]}],"mark":{"type":"line","color":"#000000","strokeWidth":1.1},"encoding":{}},
    {"data":{"name":"texts"},"transform":[{"filter":"datum.p=='A3s'&&datum.k=='g'"}],"mark":{"type":"text","align":"left","baseline":"top","fontSize":18},"encoding":{"text":{"field":"t","type":"nominal"}}},
    {"data":{"name":"arrows"},"transform":[{"filter":"datum.p=='A3s'"}],"mark":{"type":"rule","color":"#000000","strokeWidth":1.3},"encoding":{"x2":{"field":"L2"},"y2":{"field":"y2"}}},
    {"data":{"name":"heads"},"transform":[{"filter":"datum.p=='A3s'"}],"mark":{"type":"point","filled":true,"color":"#000000","opacity":1,"size":120},"encoding":{"shape":{"field":"dir","type":"nominal","scale":{"domain":["up","right"],"range":["triangle-up","triangle-right"]},"legend":null}}},
    {"data":{"name":"texts"},"transform":[{"filter":"datum.p=='A3s'&&datum.k=='fy'"}],"mark":{"type":"text","align":"center","baseline":"middle","fontSize":17.5,"angle":270},"encoding":{"text":{"field":"t","type":"nominal"}}},
    {"data":{"name":"texts"},"transform":[{"filter":"datum.p=='A3s'&&datum.k=='fx'"}],"mark":{"type":"text","align":"left","baseline":"middle","fontSize":17.5},"encoding":{"text":{"field":"t","type":"nominal"}}}
   ]},
  {"width":35,"height":1,"data":{"name":"blank"},"mark":{"type":"point","opacity":0},"view":{"stroke":null}},
  {"width":137,"height":138,
   "encoding":{"x":{"field":"L","type":"quantitative","scale":{"domain":[0.5,5.6],"nice":false,"zero":false},"axis":{"title":null,"values":[0.602,0.699,0.778,0.845,0.903,0.954,1,1.301,1.477,1.602,1.699,1.778,1.845,1.903,1.954,2,2.301,2.477,2.602,2.699,2.778,2.845,2.903,2.954,3,3.301,3.477,3.602,3.699,3.778,3.845,3.903,3.954,4,4.301,4.477,4.602,4.699,4.778,4.845,4.903,4.954,5,5.301,5.477],"labelExpr":"datum.value==1?'10¹':datum.value==2?'10²':datum.value==3?'10³':datum.value==4?'10⁴':datum.value==5?'10⁵':''","labelPadding":12,"tickSize":{"condition":{"test":"datum.value==round(datum.value)","value":-5},"value":-3}}},
    "y":{"field":"y","type":"quantitative","scale":{"domain":[0,107],"nice":false},"axis":{"title":null,"values":[0,20,40,60,80,100],"tickSize":4,"labels":false}}},
   "layer":[
    {"data":{"name":"curves"},"transform":[{"filter":"datum.p=='A3t'&&datum.s=='mock'"},{"flatten":["L","y"]}],"mark":{"type":"area","color":"#b5b5b5"},"encoding":{}},
    {"data":{"name":"curves"},"transform":[{"filter":"datum.p=='A3t'&&datum.s=='wt'"},{"flatten":["L","y"]}],"mark":{"type":"area","color":"#717171"},"encoding":{}},
    {"data":{"name":"curves"},"transform":[{"filter":"datum.p=='A3t'&&datum.s=='v2'"},{"flatten":["L","y"]}],"mark":{"type":"line","color":"#d9d9d9","strokeWidth":1},"encoding":{}},
    {"data":{"name":"curves"},"transform":[{"filter":"datum.p=='A3t'&&datum.s=='v1'"},{"flatten":["L","y"]}],"mark":{"type":"line","color":"#000000","strokeWidth":1.1},"encoding":{}},
    {"data":{"name":"texts"},"transform":[{"filter":"datum.p=='A3t'&&datum.k=='g'"}],"mark":{"type":"text","align":"left","baseline":"top","fontSize":18},"encoding":{"text":{"field":"t","type":"nominal"}}}
   ]},
  {"width":75,"height":1,"data":{"name":"blank"},"mark":{"type":"point","opacity":0},"view":{"stroke":null}},
  {"width":141,"height":138,
   "encoding":{"x":{"field":"L","type":"quantitative","scale":{"domain":[0.5,5.6],"nice":false,"zero":false},"axis":{"title":null,"values":[0.602,0.699,0.778,0.845,0.903,0.954,1,1.301,1.477,1.602,1.699,1.778,1.845,1.903,1.954,2,2.301,2.477,2.602,2.699,2.778,2.845,2.903,2.954,3,3.301,3.477,3.602,3.699,3.778,3.845,3.903,3.954,4,4.301,4.477,4.602,4.699,4.778,4.845,4.903,4.954,5,5.301,5.477],"labelExpr":"datum.value==1?'10¹':datum.value==2?'10²':datum.value==3?'10³':datum.value==4?'10⁴':datum.value==5?'10⁵':''","labelPadding":12,"tickSize":{"condition":{"test":"datum.value==round(datum.value)","value":-5},"value":-3}}},
    "y":{"field":"y","type":"quantitative","scale":{"domain":[0,107],"nice":false},"axis":{"title":null,"values":[0,20,40,60,80,100],"tickSize":4,"labelPadding":2}}},
   "layer":[
    {"data":{"name":"curves"},"transform":[{"filter":"datum.p=='B3s'&&datum.s=='mock'"},{"flatten":["L","y"]}],"mark":{"type":"area","color":"#dedede"},"encoding":{}},
    {"data":{"name":"curves"},"transform":[{"filter":"datum.p=='B3s'&&datum.s=='wt'"},{"flatten":["L","y"]}],"mark":{"type":"area","color":"#717171"},"encoding":{}},
    {"data":{"name":"curves"},"transform":[{"filter":"datum.p=='B3s'&&datum.s=='v2'"},{"flatten":["L","y"]}],"mark":{"type":"line","color":"#d9d9d9","strokeWidth":1},"encoding":{}},
    {"data":{"name":"curves"},"transform":[{"filter":"datum.p=='B3s'&&datum.s=='v1'"},{"flatten":["L","y"]}],"mark":{"type":"line","color":"#000000","strokeWidth":1.1},"encoding":{}},
    {"data":{"name":"texts"},"transform":[{"filter":"datum.p=='B3s'&&datum.k=='g'"}],"mark":{"type":"text","align":"left","baseline":"top","fontSize":18},"encoding":{"text":{"field":"t","type":"nominal"}}},
    {"data":{"name":"arrows"},"transform":[{"filter":"datum.p=='B3s'"}],"mark":{"type":"rule","color":"#000000","strokeWidth":1.3},"encoding":{"x2":{"field":"L2"},"y2":{"field":"y2"}}},
    {"data":{"name":"heads"},"transform":[{"filter":"datum.p=='B3s'"}],"mark":{"type":"point","filled":true,"color":"#000000","opacity":1,"size":120},"encoding":{"shape":{"field":"dir","type":"nominal","scale":{"domain":["up","right"],"range":["triangle-up","triangle-right"]},"legend":null}}},
    {"data":{"name":"texts"},"transform":[{"filter":"datum.p=='B3s'&&datum.k=='fy'"}],"mark":{"type":"text","align":"center","baseline":"middle","fontSize":17.5,"angle":270},"encoding":{"text":{"field":"t","type":"nominal"}}},
    {"data":{"name":"texts"},"transform":[{"filter":"datum.p=='B3s'&&datum.k=='fx'"}],"mark":{"type":"text","align":"left","baseline":"middle","fontSize":17.5},"encoding":{"text":{"field":"t","type":"nominal"}}}
   ]},
  {"width":30,"height":1,"data":{"name":"blank"},"mark":{"type":"point","opacity":0},"view":{"stroke":null}},
  {"width":141,"height":138,
   "encoding":{"x":{"field":"L","type":"quantitative","scale":{"domain":[0.5,5.6],"nice":false,"zero":false},"axis":{"title":null,"values":[0.602,0.699,0.778,0.845,0.903,0.954,1,1.301,1.477,1.602,1.699,1.778,1.845,1.903,1.954,2,2.301,2.477,2.602,2.699,2.778,2.845,2.903,2.954,3,3.301,3.477,3.602,3.699,3.778,3.845,3.903,3.954,4,4.301,4.477,4.602,4.699,4.778,4.845,4.903,4.954,5,5.301,5.477],"labelExpr":"datum.value==1?'10¹':datum.value==2?'10²':datum.value==3?'10³':datum.value==4?'10⁴':datum.value==5?'10⁵':''","labelPadding":12,"tickSize":{"condition":{"test":"datum.value==round(datum.value)","value":-5},"value":-3}}},
    "y":{"field":"y","type":"quantitative","scale":{"domain":[0,107],"nice":false},"axis":{"title":null,"values":[0,20,40,60,80,100],"tickSize":4,"labels":false}}},
   "layer":[
    {"data":{"name":"curves"},"transform":[{"filter":"datum.p=='B3t'&&datum.s=='mock'"},{"flatten":["L","y"]}],"mark":{"type":"area","color":"#dedede"},"encoding":{}},
    {"data":{"name":"curves"},"transform":[{"filter":"datum.p=='B3t'&&datum.s=='wt'"},{"flatten":["L","y"]}],"mark":{"type":"area","color":"#717171"},"encoding":{}},
    {"data":{"name":"curves"},"transform":[{"filter":"datum.p=='B3t'&&datum.s=='v2'"},{"flatten":["L","y"]}],"mark":{"type":"line","color":"#d9d9d9","strokeWidth":1},"encoding":{}},
    {"data":{"name":"curves"},"transform":[{"filter":"datum.p=='B3t'&&datum.s=='v1'"},{"flatten":["L","y"]}],"mark":{"type":"line","color":"#000000","strokeWidth":1.1},"encoding":{}},
    {"data":{"name":"texts"},"transform":[{"filter":"datum.p=='B3t'&&datum.k=='g'"}],"mark":{"type":"text","align":"left","baseline":"top","fontSize":18},"encoding":{"text":{"field":"t","type":"nominal"}}}
   ]}
]
}
